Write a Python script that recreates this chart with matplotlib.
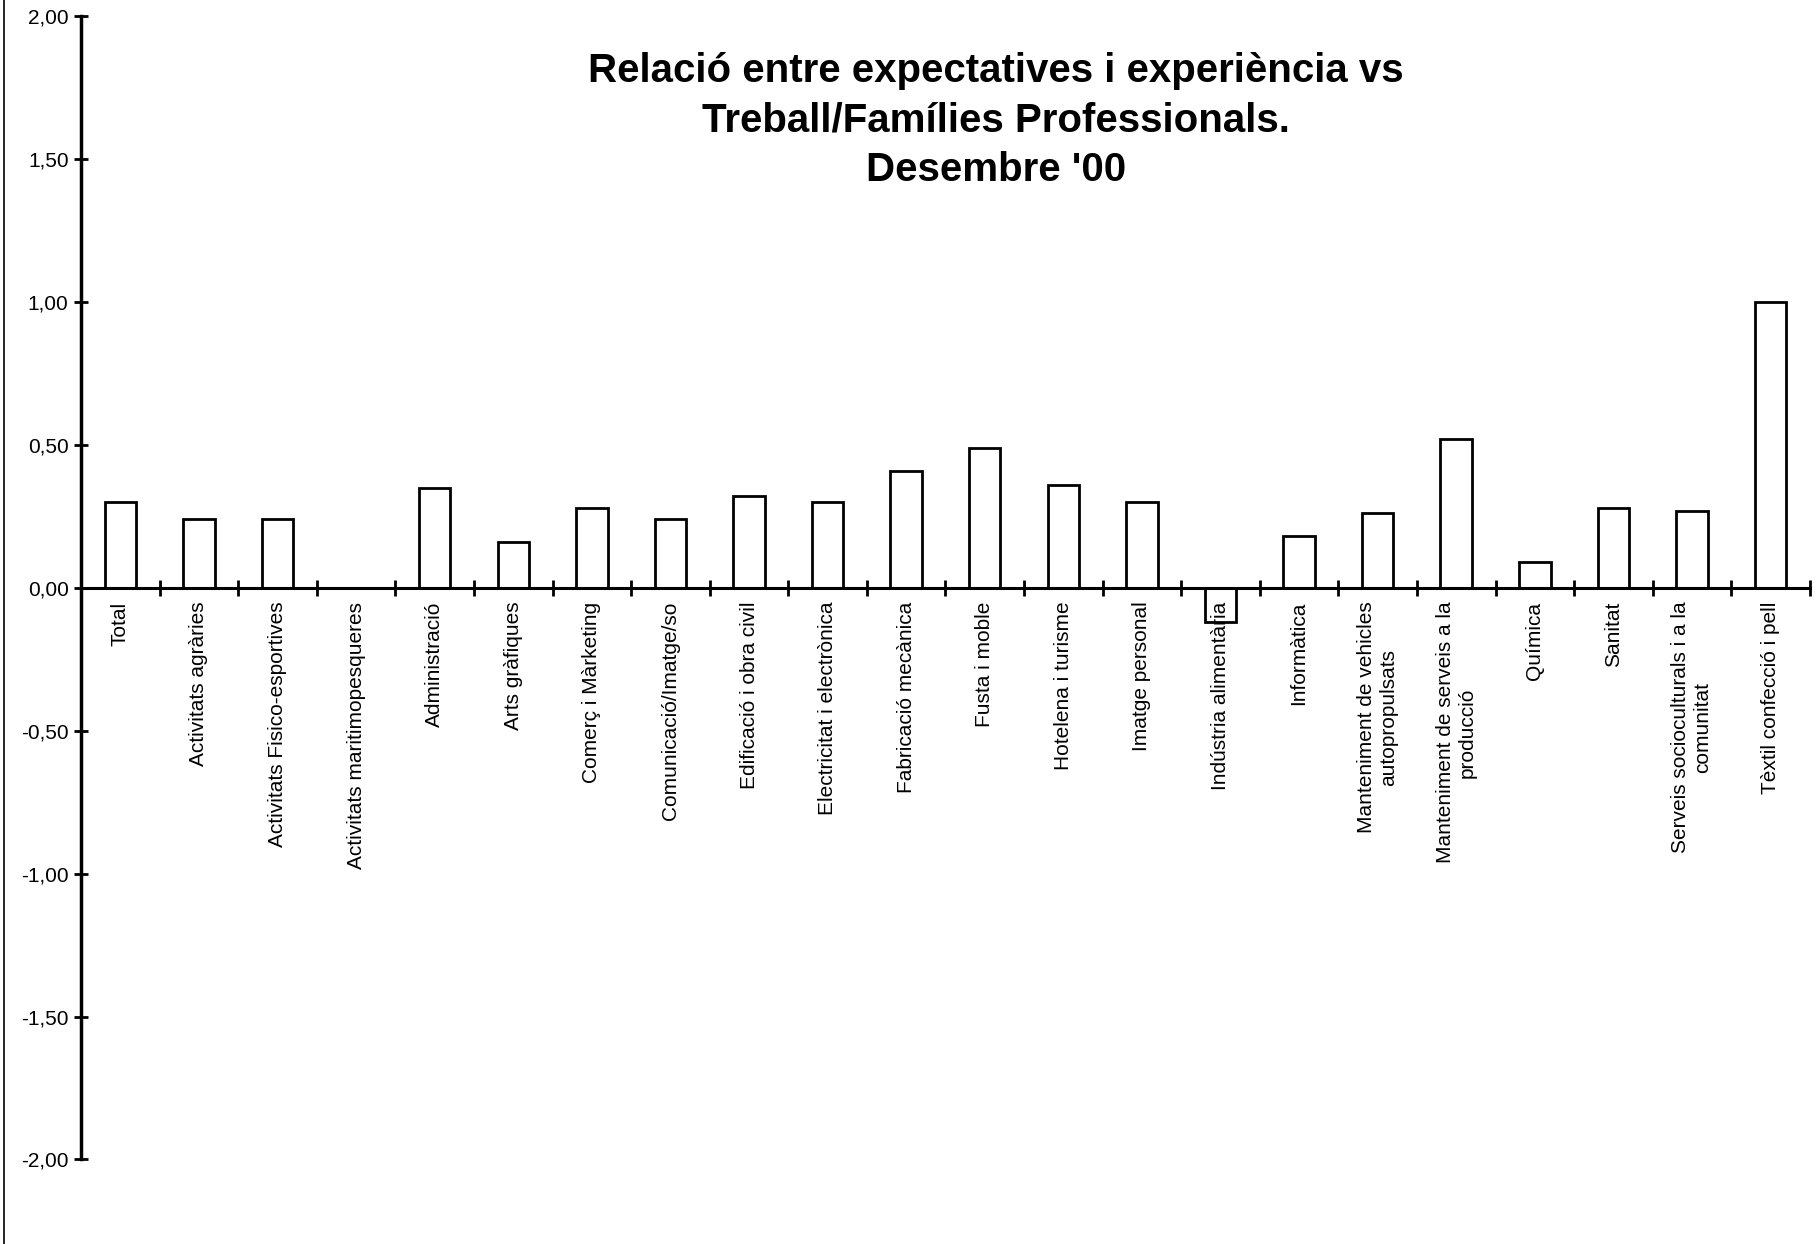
import matplotlib
matplotlib.use('Agg')
import matplotlib.pyplot as plt
from matplotlib.ticker import FuncFormatter, FixedLocator
import numpy as np

# --- dades ---
families = [
    "Total",
    "Activitats agràries",
    "Activitats Fisico-esportives",
    "Activitats maritimopesqueres",
    "Administració",
    "Arts gràfiques",
    "Comerç i Màrketing",
    "Comunicació/Imatge/so",
    "Edificació i obra civil",
    "Electricitat i electrònica",
    "Fabricació mecànica",
    "Fusta i moble",
    "Hotelena i turisme",
    "Imatge personal",
    "Indústria alimentària",
    "Informàtica",
    "Manteniment de vehicles\nautopropulsats",
    "Manteniment de serveis a la\nproducció",
    "Química",
    "Sanitat",
    "Serveis socioculturals i a la\ncomunitat",
    "Tèxtil confecció i pell",
]
values = [0.30, 0.24, 0.24, 0.00, 0.35, 0.16, 0.28, 0.24, 0.32, 0.30, 0.41,
          0.49, 0.36, 0.30, -0.12, 0.18, 0.26, 0.52, 0.09, 0.28, 0.27, 1.00]
yticks = [-2.0, -1.5, -1.0, -0.5, 0.0, 0.5, 1.0, 1.5, 2.0]
title = "Relació entre expectatives i experiència vs\nTreball/Famílies Professionals.\nDesembre '00"

plt.rcParams['font.family'] = ['Liberation Sans', 'DejaVu Sans']

fig = plt.figure(figsize=(18.18, 12.44), dpi=100)
ax = fig.add_axes([0.0446, 0.068, 0.9509, 0.919])

x = np.arange(len(families))
ax.bar(x, values, width=0.4, facecolor='white', edgecolor='black', linewidth=2, zorder=2)
# el text de les etiquetes passa per sobre de les barres, com a l'original
ax.set_axisbelow(False)

ax.set_xlim(-0.5, len(families) - 0.5)
ax.set_ylim(-2, 2)

# eixos
for s in ['top', 'right']:
    ax.spines[s].set_visible(False)
ax.spines['bottom'].set_position(('data', 0))
ax.spines['bottom'].set_linewidth(2.2)
ax.spines['left'].set_linewidth(2.5)

ax.set_yticks(yticks)
ax.yaxis.set_major_formatter(FuncFormatter(lambda v, p: f"{v:.2f}".replace('.', ',')))
ax.tick_params(axis='y', direction='inout', length=10, width=2, labelsize=15, pad=4)

ax.set_xticks(x)
ax.set_xticklabels(families, rotation=90, va='top', ha='center', multialignment='center')
ax.tick_params(axis='x', which='major', length=0, labelsize=15, pad=10)
ax.xaxis.set_minor_locator(FixedLocator(np.arange(-0.5, len(families), 1.0)))
ax.tick_params(axis='x', which='minor', direction='inout', length=12, width=2)

ax.text(0.548, 0.958, title, transform=fig.transFigure, ha='center', va='top',
        fontsize=29, fontweight='bold', linespacing=1.38)

# vora esquerra de l'escaneig
fig.add_artist(plt.Line2D([0.002, 0.002], [0, 1], transform=fig.transFigure,
                          color='black', linewidth=1.2))

fig.savefig('out.png', dpi=100, facecolor='white')
